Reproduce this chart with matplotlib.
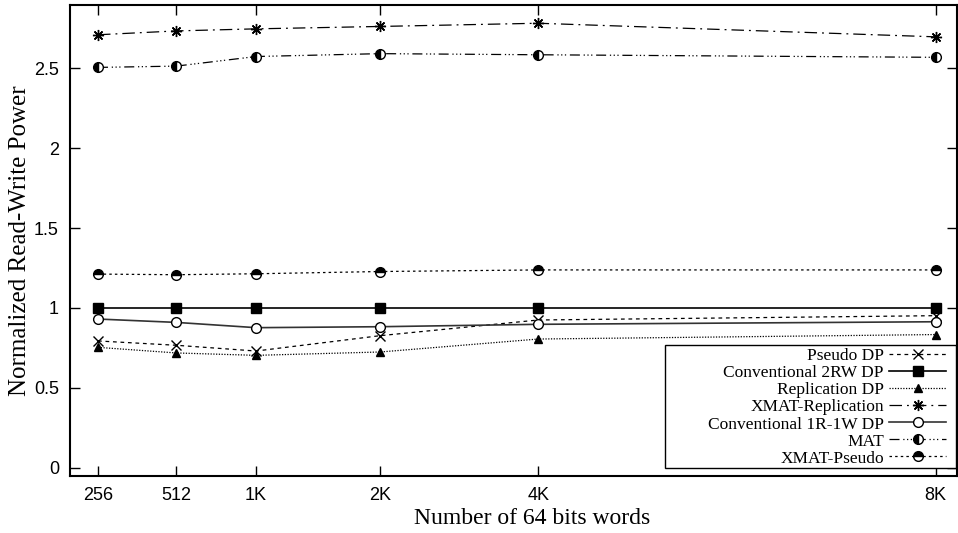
import matplotlib
matplotlib.use("Agg")
import matplotlib.pyplot as plt
from matplotlib.patches import Rectangle

# tamaños de memoria (eje x no uniforme, como en la figura original)
etiquetas_x = ["256", "512", "1K", "2K", "4K", "8K"]
pos_x = [0, 0.99, 2.0, 3.57, 5.57, 10.6]

pseudo_dp = [0.794, 0.767, 0.731, 0.827, 0.925, 0.952]
conv_2rw = [1.0, 1.0, 1.0, 1.0, 1.0, 1.0]
replicacion_dp = [0.754, 0.719, 0.704, 0.725, 0.806, 0.834]
xmat_replicacion = [2.708, 2.732, 2.745, 2.760, 2.780, 2.695]
conv_1r1w = [0.931, 0.910, 0.877, 0.883, 0.898, 0.914]
mat = [2.504, 2.512, 2.572, 2.590, 2.583, 2.567]
xmat_pseudo = [1.212, 1.208, 1.214, 1.228, 1.238, 1.238]

valores_y = [0, 0.5, 1, 1.5, 2, 2.5]
etiquetas_y = ["0", "0.5", "1", "1.5", "2", "2.5"]

fig = plt.figure(figsize=(9.58, 5.33), dpi=100)
ax = fig.add_axes([0.0731, 0.107, 0.9259, 0.8836])

ms = 7
lw = 0.9
ax.plot(pos_x, pseudo_dp, color="black", lw=lw, ls=(0, (3, 3)), marker="x",
        ms=ms, mew=1.0, label="Pseudo DP")
ax.plot(pos_x, conv_2rw, color="black", lw=1.2, ls="-", marker="s",
        ms=ms, label="Conventional 2RW DP")
ax.plot(pos_x, replicacion_dp, color="black", lw=lw, ls=(0, (1, 1.2)), marker="^",
        ms=ms - 1, label="Replication DP")
ax.plot(pos_x, xmat_replicacion, color="black", lw=lw, ls=(0, (10, 4, 1.5, 4)),
        marker=(8, 2, 0), ms=ms + 1, mew=1.0, label="XMAT-Replication")
ax.plot(pos_x, conv_1r1w, color="#333333", lw=1.2, ls="-", marker="o", ms=ms,
        mfc="white", mec="black", mew=1.0, label="Conventional 1R-1W DP")
ax.plot(pos_x, mat, color="black", lw=lw, ls=(0, (8, 3, 1, 2, 1, 2, 1, 3)),
        marker="o", ms=ms, fillstyle="left", mfc="black", mfcalt="white",
        mec="black", mew=1.0, label="MAT")
ax.plot(pos_x, xmat_pseudo, color="black", lw=lw, ls=(0, (2, 2.5)),
        marker="o", ms=ms, fillstyle="top", mfc="black", mfcalt="white",
        mec="black", mew=1.0, label="XMAT-Pseudo")

ax.set_xlim(-0.354, 10.87)
ax.set_ylim(-0.05, 2.894)
ax.set_xticks(pos_x)
ax.set_xticklabels(etiquetas_x, family="Liberation Sans", fontsize=13)
ax.set_yticks(valores_y)
ax.set_yticklabels(etiquetas_y, family="Liberation Sans", fontsize=13)
ax.tick_params(direction="in", length=7, width=1, top=True, right=True, pad=8)

for s in ax.spines.values():
    s.set_linewidth(1.5)

ax.set_xlabel("Number of 64 bits words", family="Liberation Serif", fontsize=17)
ax.xaxis.set_label_coords(0.521, -0.068)
ax.set_ylabel("Normalized Read-Write Power", family="Liberation Serif", fontsize=18)
ax.yaxis.set_label_coords(-0.044, 0.5)

# marco de la leyenda dibujado aparte (gnuplot deja margen a la izquierda)
ax.add_patch(Rectangle((0.671, 0.017), 0.328, 0.261, transform=ax.transAxes,
                       facecolor="white", edgecolor="black", lw=1.0, zorder=4))

# con markerfirst=False el texto queda alineado a la derecha
leg = ax.legend(loc="lower right", bbox_to_anchor=(0.988, 0.02), markerfirst=False,
                frameon=False, prop={"family": "Liberation Serif", "size": 12.5},
                handlelength=3.3, labelspacing=0.05, borderpad=0.0,
                handletextpad=0.3, borderaxespad=0.0)
leg.set_zorder(5)

fig.savefig("out.png", dpi=100)
